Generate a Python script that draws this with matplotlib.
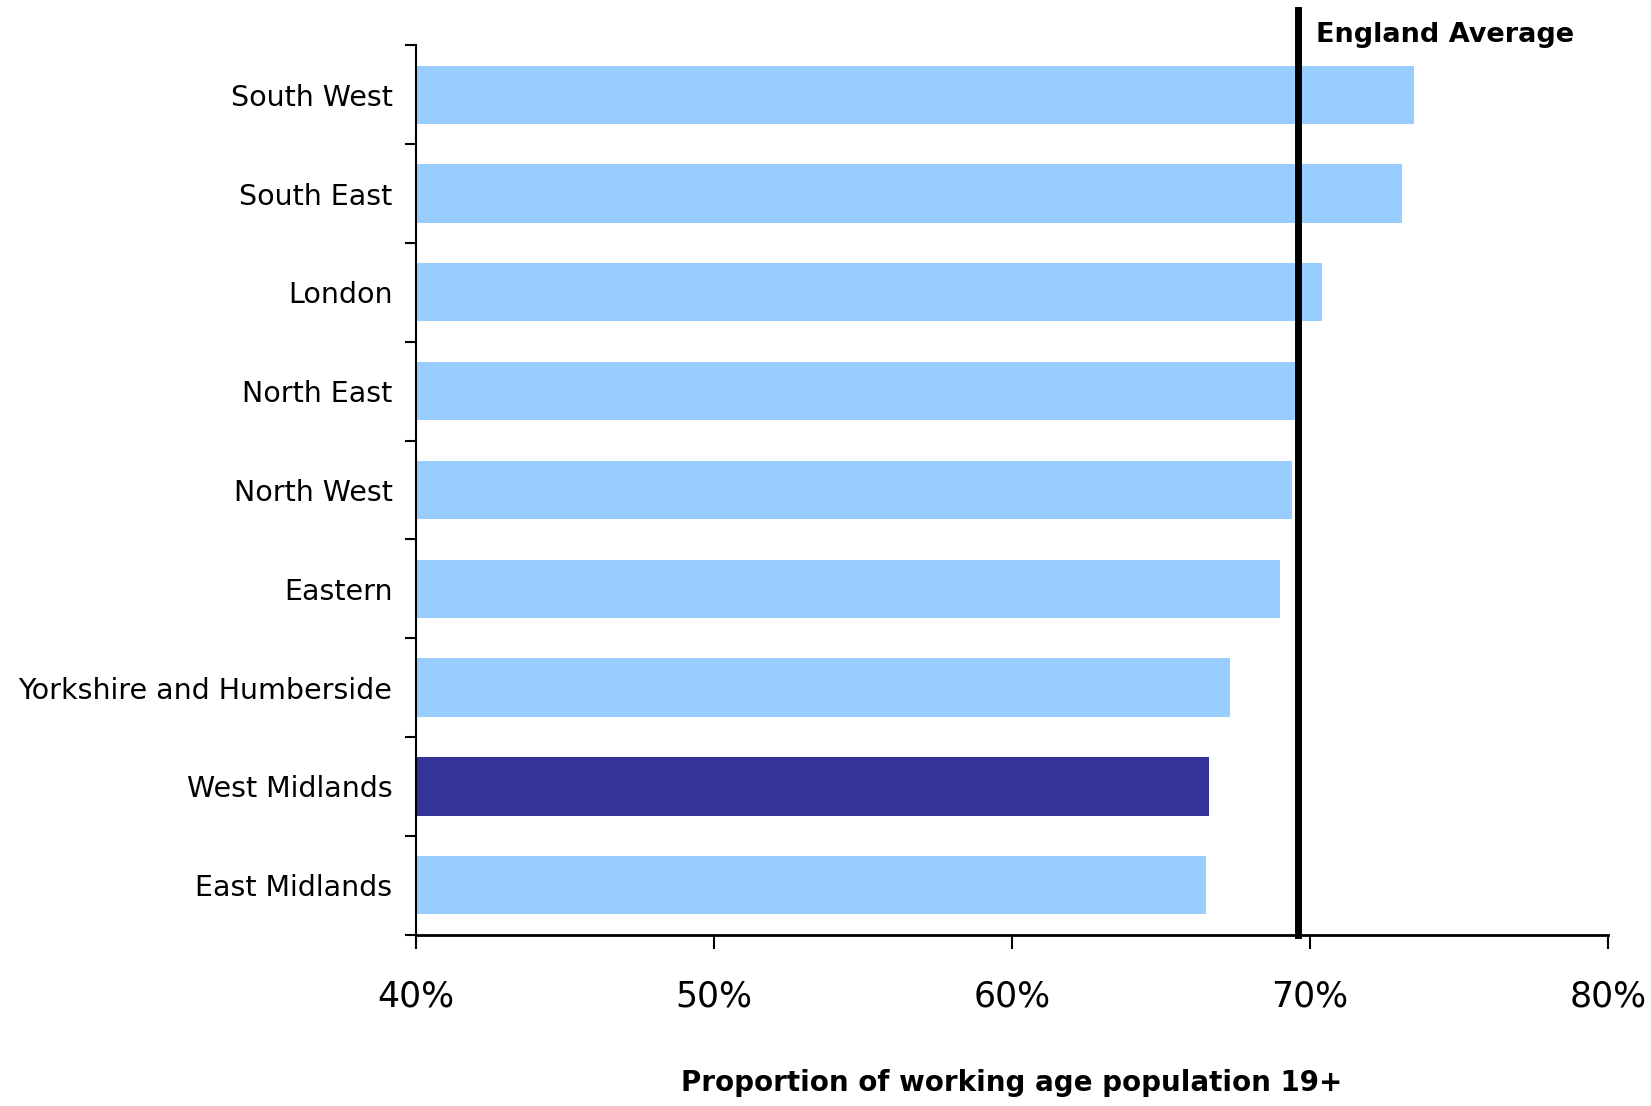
import matplotlib
matplotlib.use("Agg")
import matplotlib.pyplot as plt
import numpy as np

regions = ["South West", "South East", "London", "North East", "North West",
           "Eastern", "Yorkshire and Humberside", "West Midlands", "East Midlands"]
values = [73.5, 73.1, 70.4, 69.5, 69.4, 69.0, 67.3, 66.6, 66.5]
highlight = "West Midlands"
england_avg = 69.6
xticks = [40, 50, 60, 70, 80]

light = "#99CCFF"
dark = "#333399"

fig = plt.figure(figsize=(16.51, 11.06), dpi=100)
ax = fig.add_axes([0.252, 0.155, 0.722, 0.804])

y = np.arange(len(regions))[::-1]
colors = [dark if r == highlight else light for r in regions]
ax.barh(y, [v - 40 for v in values], left=40, height=0.59, color=colors, zorder=2)

ax.set_xlim(40, 80)
ax.set_ylim(-0.5, len(regions) - 0.5)

# England average line, running a bit above the plot area
ax.axvline(england_avg, ymin=0, ymax=1.04, color="black", lw=5, clip_on=False, zorder=3)
ax.text(england_avg + 0.6, len(regions) - 0.5 + 0.1, "England Average",
        fontsize=19.5, fontweight="bold", ha="left", va="center")

# category labels at bar centres, small ticks between categories
ax.set_yticks(y)
ax.set_yticklabels(regions, fontsize=20.5)
ax.set_yticks(np.arange(-0.5, len(regions), 1), minor=True)
ax.tick_params(axis="y", which="major", length=0, pad=17)
ax.tick_params(axis="y", which="minor", length=8, width=1.5, direction="out")

ax.set_xticks(xticks)
ax.set_xticklabels([f"{t}%" for t in xticks], fontsize=25)
ax.tick_params(axis="x", length=10, width=1.5, pad=22)

ax.set_xlabel("Proportion of working age population 19+", fontsize=20,
              fontweight="bold", labelpad=40)

for s in ["top", "right"]:
    ax.spines[s].set_visible(False)
ax.spines["left"].set_linewidth(1.5)
ax.spines["bottom"].set_linewidth(2)

fig.savefig("out.png", dpi=100)
